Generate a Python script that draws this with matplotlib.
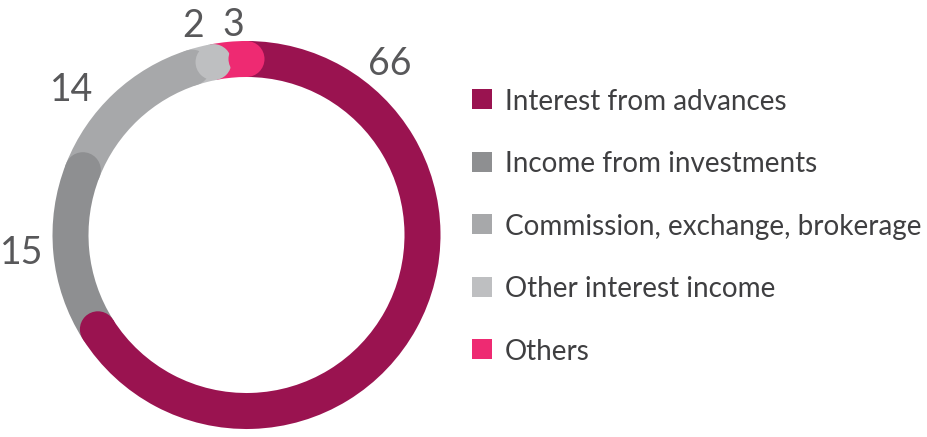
import numpy as np
import matplotlib.pyplot as plt
from matplotlib.patches import Wedge, Circle, Rectangle

plt.rcParams["font.family"] = ["Lato", "DejaVu Sans"]

# data (percent share, clockwise from 12 o'clock)
categories = ["Interest from advances", "Income from investments",
              "Commission, exchange, brokerage", "Other interest income", "Others"]
values = [66, 15, 14, 2, 3]
value_labels = ["66", "15", "14", "2", "3"]
colors = ["#9A1350", "#8E8F91", "#A7A8AA", "#BEBFC1", "#EE2A72"]

# where the value labels sit (polar, around ring centre)
label_angle = [50.5, 183.8, 139.6, 104.0, 93.5]
label_radius = [225.5, 225, 229.8, 219.5, 213.4]

W, H = 927, 437
fig = plt.figure(figsize=(W / 100, H / 100), dpi=100)
ax = fig.add_axes([0, 0, 1, 1])
ax.set_xlim(0, W)
ax.set_ylim(0, H)
ax.set_aspect("equal")
ax.axis("off")

cx, cy = 246.5, H - 235
r_out, ring_w = 194, 36
r_mid = r_out - ring_w / 2

total = sum(values)
starts, ends = [], []
a = 90.0
for v in values:
    starts.append(a)
    a -= v / total * 360
    ends.append(a)

# ring bodies
for s, e, c in zip(starts, ends, colors):
    ax.add_patch(Wedge((cx, cy), r_out, e, s, width=ring_w, facecolor=c, edgecolor="none"))
# rounded end caps overlap the next segment
for e, c in zip(ends, colors):
    ex = cx + r_mid * np.cos(np.radians(e))
    ey = cy + r_mid * np.sin(np.radians(e))
    ax.add_patch(Circle((ex, ey), ring_w / 2, facecolor=c, edgecolor="none"))

# value labels around the ring
for ang, rad, txt in zip(label_angle, label_radius, value_labels):
    lx = cx + rad * np.cos(np.radians(ang))
    ly = cy + rad * np.sin(np.radians(ang))
    ax.text(lx, ly, txt, ha="center", va="center_baseline", fontsize=27, color="#58585A")

# legend
y0, dy = H - 99, 62.5
for i, (name, c) in enumerate(zip(categories, colors)):
    yy = y0 - i * dy
    ax.add_patch(Rectangle((472, yy - 10), 20, 20, facecolor=c, edgecolor="none"))
    ax.text(505, yy, name, ha="left", va="center_baseline", fontsize=20.1, color="#3F3F41")

fig.savefig("out.png", dpi=100)
